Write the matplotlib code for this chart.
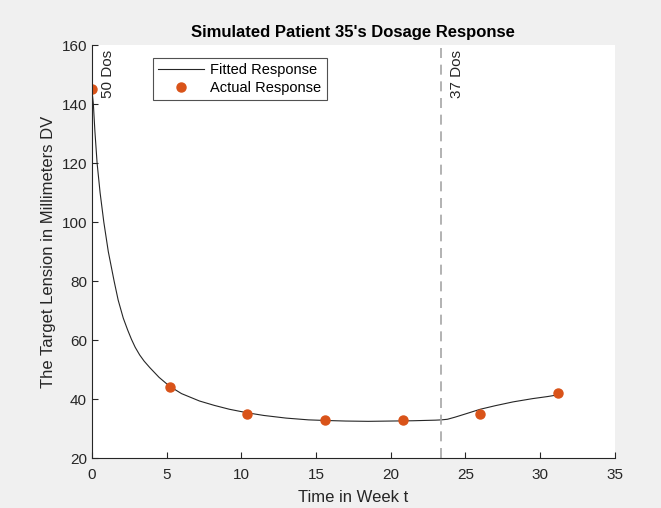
import matplotlib.pyplot as plt

plt.rcParams['font.family'] = ['Liberation Sans', 'DejaVu Sans']

# Actual (measured) response
weeks = [0, 5.2, 10.4, 15.6, 20.8, 26.0, 31.2]
lesion = [145, 44, 35, 33, 33, 35, 42]

# Fitted response curve
fit_t = [0, 0.1, 0.2, 0.35, 0.55, 0.8, 1.1, 1.49, 1.76, 2.1, 2.4, 2.65, 2.9,
         3.2, 3.5, 3.88, 4.5, 5.2, 6.0, 7.2, 8.2, 9.2, 10.4, 11.5, 13.0, 14.5,
         15.6, 17.0, 18.5, 20.0, 21.5, 23.0, 23.4, 23.8, 24.3, 25.0, 26.0,
         27.0, 28.2, 29.5, 30.5, 31.1]
fit_y = [145, 140, 131, 120, 110, 100, 90, 80, 73.6, 67.5, 63.4, 60.3, 57.6,
         55.0, 52.9, 50.7, 47.4, 44.4, 41.9, 39.4, 37.9, 36.6, 35.4, 34.5, 33.6,
         33.0, 32.8, 32.6, 32.5, 32.6, 32.7, 32.9, 33.0, 33.2, 33.9, 35.0, 36.6,
         37.8, 39.1, 40.2, 40.9, 41.4]

# Dosage change markers
dose_t = [0, 23.4]
dose_labels = ['50 Dos', '37 Dos']

fig = plt.figure(figsize=(6.61, 5.08), dpi=100, facecolor='#f0f0f0')
ax = fig.add_axes([0.139, 0.098, 0.791, 0.813])

ax.plot(fit_t, fit_y, color='#262626', lw=0.8, label='Fitted Response')
ax.plot(weeks, lesion, 'o', color='#D95319', ms=6.5, label='Actual Response')
ax.axvline(dose_t[1], color='#a6a6a6', lw=1.2, ls=(0, (6, 4)))

for t, lab in zip(dose_t, dose_labels):
    ax.text(t + 0.6, 158.3, lab, rotation=90, va='top', ha='left',
            fontsize=11, color='#262626')

ax.set_xlim(0, 35)
ax.set_ylim(20, 160)
ax.set_xticks(range(0, 36, 5))
ax.set_yticks(range(20, 161, 20))
ax.tick_params(direction='in', labelsize=11, colors='#262626', length=4)
ax.tick_params(axis='x', pad=7)
for s in ['top', 'right']:
    ax.spines[s].set_visible(False)
for s in ['left', 'bottom']:
    ax.spines[s].set_color('#262626')
    ax.spines[s].set_linewidth(0.8)

ax.set_xlabel('Time in Week t', fontsize=12, color='#262626', labelpad=6)
ax.set_ylabel('The Target Lension in Millimeters DV', fontsize=12, color='#262626')
ax.set_title("Simulated Patient 35's Dosage Response", fontsize=12, fontweight='bold', pad=6)

leg = ax.legend(loc='upper left', bbox_to_anchor=(0.108, 0.98), fontsize=10.5,
                frameon=True, fancybox=False, edgecolor='#262626',
                handlelength=3.2, handletextpad=0.4, borderpad=0.35,
                labelspacing=0.3, borderaxespad=0.3)
leg.get_frame().set_linewidth(0.8)

fig.savefig('out.png', dpi=100, facecolor=fig.get_facecolor())
